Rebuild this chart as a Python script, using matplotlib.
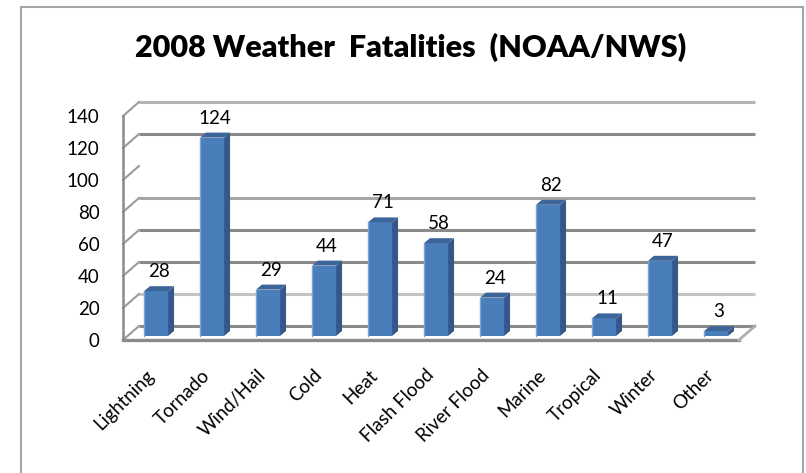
import matplotlib
matplotlib.use("Agg")
import matplotlib.pyplot as plt
from matplotlib.patches import Polygon, Rectangle
from matplotlib.transforms import ScaledTranslation

categories = ['Lightning', 'Tornado', 'Wind/Hail', 'Cold', 'Heat', 'Flash Flood',
              'River Flood', 'Marine', 'Tropical', 'Winter', 'Other']
deaths = [28, 124, 29, 44, 71, 58, 24, 82, 11, 47, 3]
y_ticks = [0, 20, 40, 60, 80, 100, 120, 140]
# colour of each back-wall gridline (the 100 line is missing in the original)
grid_colors = ['#8a8a8a', '#c4c4c4', '#8a8a8a', '#8a8a8a', '#a6a6a6', None, '#8a8a8a', '#b4b4b4']

plt.rcParams['font.family'] = ['Lato', 'DejaVu Sans']

W, H, DPI = 806, 473, 100
fig = plt.figure(figsize=(W / DPI, H / DPI), dpi=DPI)
fig.patch.set_facecolor('white')

# chart border (bottom edge runs off the picture)
fig.patches.append(Rectangle((21 / W, -0.05), (803 - 21) / W, 1.05 - 7 / H,
                             transform=fig.transFigure, fill=False,
                             ec='#a6a6a6', lw=1.5))

fig.text(411 / W, 1 - 57 / H, '2008 Weather  Fatalities  (NOAA/NWS)',
         ha='center', va='baseline', fontsize=22, fontweight='heavy')

# axes = front plane of the 3d box
ax = fig.add_axes([123 / W, 133 / H, 616 / W, 224 / H])
ax.set_xlim(-0.5, 10.5)
ax.set_ylim(0, 140)

# pixel offsets -> data units
px_x = 11 / 616
px_y = 140 / 224


def depth(dx_px, dy_px):
    return dx_px * px_x, dy_px * px_y


bx, by = depth(16, 14)   # back wall
ox, oy = depth(5, 4)     # front face of bars
sx, sy = depth(6, 5)     # bar thickness

# back wall gridlines + left wall ticks
for v, c in zip(y_ticks, grid_colors):
    if c is not None:
        ax.plot([-0.5 + bx, 10.5 + bx], [v + by, v + by], color=c, lw=2.2,
                clip_on=False, zorder=1, solid_capstyle='butt')
    ax.plot([-0.5, -0.5 + bx], [v, v + by], color='#9a9a9a', lw=1.5,
            clip_on=False, zorder=1)

# floor / axis lines
ax.plot([-0.5, 10.5], [0, 0], color='#8a8a8a', lw=2.4, clip_on=False, zorder=5)
ax.plot([-0.5, -0.5], [0, 140], color='#8a8a8a', lw=1.8, clip_on=False, zorder=5)
ax.plot([10.5, 10.5 + bx], [0, by], color='#b0b0b0', lw=2, clip_on=False, zorder=5)

x = list(range(len(categories)))
bw = 0.43
xs = [i + ox for i in x]
ax.bar(xs, deaths, width=bw, bottom=oy, color='#4a7ebb', zorder=3,
       clip_on=False)

for xc, v in zip(xs, deaths):
    xl, xr = xc - bw / 2, xc + bw / 2
    top = oy + v
    side = Polygon([(xr, oy), (xr + sx, oy + sy), (xr + sx, top + sy), (xr, top)],
                   closed=True, fc='#34588a', ec='none', zorder=3, clip_on=False)
    lid = Polygon([(xl, top), (xr, top), (xr + sx, top + sy), (xl + sx, top + sy)],
                  closed=True, fc='#3d659a', ec='none', zorder=3, clip_on=False)
    ax.add_patch(side)
    ax.add_patch(lid)
    ax.plot([xl, xl], [oy, top], color='#7ea3d0', lw=1, zorder=4, clip_on=False)
    ax.annotate(str(v), (xc + sx / 2, top + sy), xytext=(0, 6),
                textcoords='offset pixels', ha='center', va='bottom',
                fontsize=13.5, annotation_clip=False)

ax.set_xticks(x)
ax.set_xticklabels(categories, rotation=45, ha='right', rotation_mode='anchor',
                   fontsize=13.5)
ax.set_yticks(y_ticks)
ax.set_yticklabels([str(t) for t in y_ticks], fontsize=13.5)
ax.tick_params(axis='x', length=0, pad=19)
ax.tick_params(axis='y', length=0, pad=17)
shift = ScaledTranslation(-6 / DPI, 0, fig.dpi_scale_trans)
for lbl in ax.get_xticklabels():
    lbl.set_transform(lbl.get_transform() + shift)
for s in ax.spines.values():
    s.set_visible(False)
ax.patch.set_alpha(0)

fig.savefig('out.png', dpi=DPI)
